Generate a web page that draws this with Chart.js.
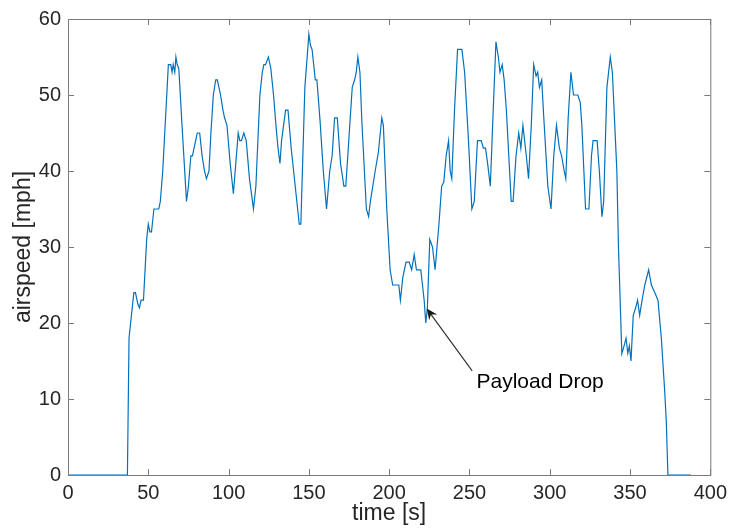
<!DOCTYPE html>
<html>
<head>
<meta charset="utf-8">
<script src="https://cdn.jsdelivr.net/npm/chart.js@4"></script>
<style>
    body { margin: 0; background: #fff; }
    #wrap { width: 733px; height: 529px; position: relative; }
</style>
</head>
<body>
<div id="wrap"><canvas id="speed-chart"></canvas></div>
<script>
// time [s] and airspeed [mph]
const TIME_S = [
    0, 37, 38, 39.5, 41, 42, 43.5, 44.5, 45.5, 47, 49, 50, 51, 52, 53.5, 56.5, 57.5, 59, 61, 62.5,
    64, 64.8, 65.5, 66.5, 67.2, 68, 69, 71, 73.8, 75, 76.5, 77.5, 78.5, 79.5, 80.5, 82, 83.5, 85, 86.2, 87.8,
    89, 90.5, 92, 93, 94, 95, 96.5, 97.5, 99, 101, 103, 104.5, 106, 107, 108, 109.5, 111, 113, 115.5, 117,
    119.5, 121, 122, 123, 124.8, 126.3, 128, 129.5, 130.8, 132, 133, 135.5, 137, 139, 142, 144, 145, 147.5, 150, 151,
    152, 154, 155, 157, 159, 161, 163, 164.5, 166, 167.7, 169.7, 171.8, 173, 177, 178.5, 179.5, 180.5, 181.8, 183, 185.8,
    187.2, 188.3, 191.3, 193.3, 195.4, 196.4, 198.5, 200.6, 202.2, 206, 207, 208.5, 210.5, 212.5, 214, 215.6, 217, 219.7, 221.8, 222.8,
    223.8, 225.3, 227, 228.6, 231, 232.7, 234, 235.5, 237, 238, 239, 240.7, 242.6, 245.3, 247, 249.4, 251.5, 253, 255, 257.3,
    258.7, 260, 261.3, 263, 264.8, 266.5, 268, 269, 270.4, 271.6, 273, 275, 276, 277.2, 279, 280.7, 282, 283.3, 285.4, 286.8,
    288.5, 290, 291.5, 292.5, 293.6, 295, 296.3, 298.8, 300.8, 302.5, 304.2, 306, 307.4, 309, 310, 311.5, 313.2, 314.8, 317.5, 319,
    320, 322.3, 324.4, 326, 327, 329.5, 330.9, 332.5, 333.6, 335.6, 337.7, 339, 341.8, 342.8, 344.9, 346.3, 347.5, 348.6, 349.6, 350.6,
    352, 353.5, 354.7, 356, 357.5, 359.2, 361.6, 363.3, 365.4, 367.4, 369.5, 371.6, 372.6, 373.6, 388
];
const AIRSPEED_MPH = [
    0, 0, 18, 21, 24, 24, 22.5, 22, 23, 23, 31, 33, 32, 32, 35, 35, 36, 40, 48, 54,
    54, 53, 54, 53, 55, 54, 53.5, 46, 36, 38, 42, 42, 43, 44, 45, 45, 42, 40, 39, 40,
    45, 50, 52, 52, 51, 50, 48, 47, 46, 41, 37, 41, 45, 44, 44, 45, 44, 39, 35, 38,
    50, 53, 54, 54, 55, 53.5, 50, 46, 43, 41, 44, 48, 48, 43, 37, 33, 33, 51, 58, 56.5,
    56, 52, 52, 46.5, 40, 35, 40, 42, 47, 47, 41, 38, 38, 51, 52, 53, 55, 53, 46.5, 35,
    34, 36, 40, 42.5, 47, 46, 35, 27, 25, 25, 23, 26, 28, 28, 27, 29, 27, 27, 23, 20,
    22, 31, 30, 27, 33, 38, 38.5, 42, 44, 40, 39, 48, 56, 56, 53, 44, 35, 36, 44, 44,
    43, 43, 41, 38, 48, 57, 55, 53, 54, 52, 48, 40, 36, 36, 42, 45, 43, 46, 42, 39,
    46, 54, 52.5, 53, 51, 52, 47, 38, 35, 42, 46, 43, 42, 40, 39, 47, 53, 50, 50, 49,
    46, 35, 35, 42, 44, 44, 40, 34, 36, 51, 55, 53, 40, 30, 16, 17, 18, 16, 17, 15,
    21, 22, 23, 21, 23, 25, 27, 25, 24, 23, 18, 11, 7, 0, 0
];

const X_TICKS = [0, 50, 100, 150, 200, 250, 300, 350, 400];
const Y_TICKS = [0, 10, 20, 30, 40, 50, 60];

// annotation: arrow tip sits on the dip, text below right
const DROP_LABEL = 'Payload Drop';
const DROP_TIP = { x: 223.4, y: 21.9 };
const DROP_TAIL = { x: 251.7, y: 13.7 };
const DROP_TEXT = { x: 254.4, y: 12.2 };

const AXIS_COLOR = '#7a7a7a';
const TEXT_COLOR = '#262626';
const LINE_COLOR = '#0072BD';

// box round the plot area plus inward ticks, MATLAB style
const boxPlugin = {
    id: 'boxAxes',
    afterDatasetsDraw(chart) {
        const { ctx, chartArea: a, scales: { x, y } } = chart;
        const len = 6;
        ctx.save();
        ctx.strokeStyle = AXIS_COLOR;
        ctx.lineWidth = 1;
        ctx.strokeRect(a.left + 0.5, a.top + 0.5, a.right - a.left, a.bottom - a.top);
        ctx.beginPath();
        X_TICKS.forEach(t => {
            const px = Math.round(x.getPixelForValue(t)) + 0.5;
            ctx.moveTo(px, a.bottom); ctx.lineTo(px, a.bottom - len);
            ctx.moveTo(px, a.top); ctx.lineTo(px, a.top + len);
        });
        Y_TICKS.forEach(v => {
            const py = Math.round(y.getPixelForValue(v)) + 0.5;
            ctx.moveTo(a.left, py); ctx.lineTo(a.left + len, py);
            ctx.moveTo(a.right, py); ctx.lineTo(a.right - len, py);
        });
        ctx.stroke();
        ctx.restore();
    }
};

const annotationPlugin = {
    id: 'payloadDrop',
    afterDatasetsDraw(chart) {
        const { ctx, scales: { x, y } } = chart;
        const tx = x.getPixelForValue(DROP_TIP.x), ty = y.getPixelForValue(DROP_TIP.y);
        const sx = x.getPixelForValue(DROP_TAIL.x), sy = y.getPixelForValue(DROP_TAIL.y);
        const ang = Math.atan2(ty - sy, tx - sx);
        const head = 12, spread = 0.42;

        ctx.save();
        ctx.strokeStyle = '#2a2a2a';
        ctx.fillStyle = '#1a1a1a';
        ctx.lineWidth = 1.1;
        ctx.beginPath();
        ctx.moveTo(sx, sy);
        ctx.lineTo(tx - Math.cos(ang) * 5, ty - Math.sin(ang) * 5);
        ctx.stroke();

        ctx.beginPath();
        ctx.moveTo(tx, ty);
        ctx.lineTo(tx - head * Math.cos(ang - spread), ty - head * Math.sin(ang - spread));
        ctx.lineTo(tx - head * 0.6 * Math.cos(ang), ty - head * 0.6 * Math.sin(ang));
        ctx.lineTo(tx - head * Math.cos(ang + spread), ty - head * Math.sin(ang + spread));
        ctx.closePath();
        ctx.fill();

        ctx.fillStyle = '#000';
        ctx.font = '21px "Liberation Sans", Arial, sans-serif';
        ctx.textAlign = 'left';
        ctx.textBaseline = 'middle';
        ctx.fillText(DROP_LABEL, x.getPixelForValue(DROP_TEXT.x), y.getPixelForValue(DROP_TEXT.y));
        ctx.restore();
    }
};

document.addEventListener('DOMContentLoaded', () => {
    const points = TIME_S.map((t, i) => ({ x: t, y: AIRSPEED_MPH[i] }));
    const tickFont = { family: '"Liberation Sans", Arial, sans-serif', size: 20 };
    const titleFont = { family: '"Liberation Sans", Arial, sans-serif', size: 23 };

    new Chart(document.getElementById('speed-chart').getContext('2d'), {
        type: 'line',
        data: {
            datasets: [{
                data: points,
                borderColor: LINE_COLOR,
                borderWidth: 1.2,
                pointRadius: 0,
                tension: 0,
                fill: false
            }]
        },
        options: {
            responsive: true,
            maintainAspectRatio: false,
            animation: false,
            layout: { padding: { top: 19, right: 20, left: 0, bottom: 0 } },
            plugins: {
                legend: { display: false },
                tooltip: { enabled: false }
            },
            scales: {
                x: {
                    type: 'linear',
                    min: 0,
                    max: 400,
                    afterBuildTicks: scale => { scale.ticks = X_TICKS.map(v => ({ value: v })); },
                    afterFit: scale => { scale.height = 54; },
                    grid: { display: false, drawTicks: false },
                    border: { display: false },
                    ticks: { color: TEXT_COLOR, font: tickFont, padding: 6, maxRotation: 0 },
                    title: {
                        display: true,
                        text: 'time [s]',
                        color: TEXT_COLOR,
                        font: titleFont,
                        padding: { top: 0, bottom: 2 }
                    }
                },
                y: {
                    min: 0,
                    max: 60,
                    afterBuildTicks: scale => { scale.ticks = Y_TICKS.map(v => ({ value: v })); },
                    afterFit: scale => { scale.width = 68; },
                    grid: { display: false, drawTicks: false },
                    border: { display: false },
                    ticks: { color: TEXT_COLOR, font: tickFont, padding: 7 },
                    title: {
                        display: true,
                        text: 'airspeed [mph]',
                        color: TEXT_COLOR,
                        font: titleFont,
                        padding: { top: 10, bottom: 0 }
                    }
                }
            }
        },
        plugins: [boxPlugin, annotationPlugin]
    });
});
</script>
</body>
</html>
